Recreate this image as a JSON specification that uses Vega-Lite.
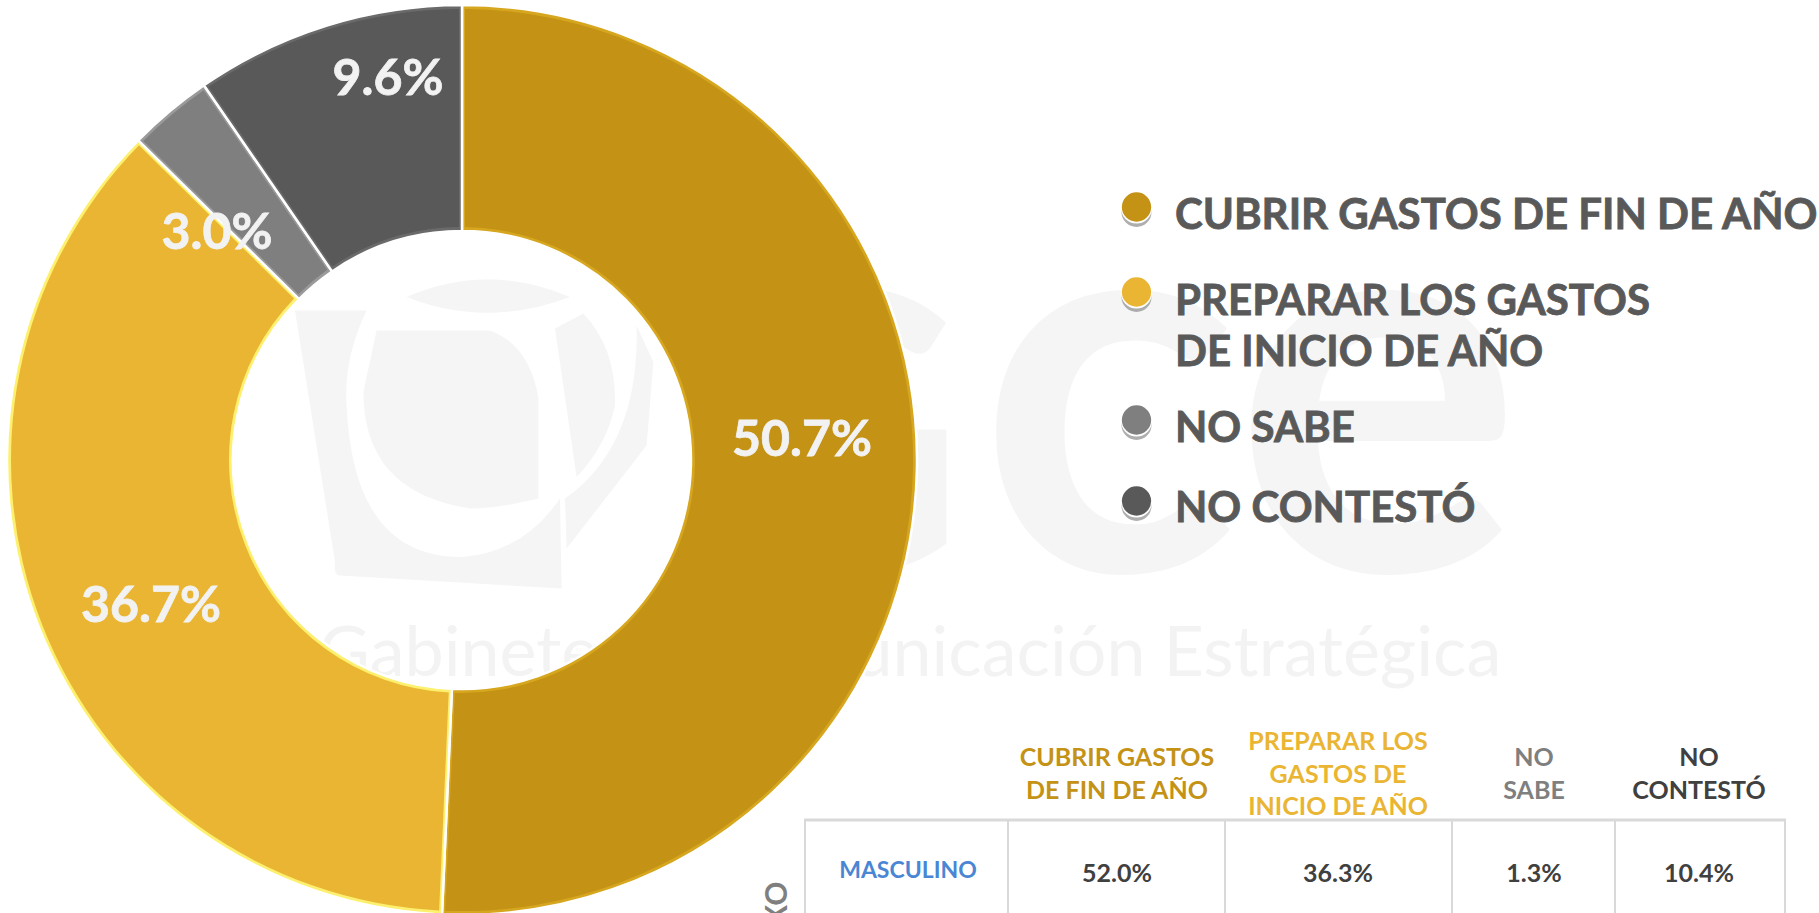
{
"$schema":"https://vega.github.io/schema/vega-lite/v6.json",
"width":1819,"height":913,"padding":0,
"autosize":{"type":"fit","contains":"padding"},
"background":"#ffffff",
"config":{"view":{"stroke":null},"text":{"font":"Lato","fontWeight":"bold"}},
"datasets":{
"categorias":[
{"orden":1,"categoria":"CUBRIR GASTOS DE FIN DE AÑO","leyenda":"CUBRIR GASTOS DE FIN DE AÑO","encabezado":"CUBRIR GASTOS|DE FIN DE AÑO","pct":50.7,"etiqueta":"50.7%","masculino":"52.0%"},
{"orden":2,"categoria":"PREPARAR LOS GASTOS DE INICIO DE AÑO","leyenda":"PREPARAR LOS GASTOS|DE INICIO DE AÑO","encabezado":"PREPARAR LOS|GASTOS DE|INICIO DE AÑO","pct":36.7,"etiqueta":"36.7%","masculino":"36.3%"},
{"orden":3,"categoria":"NO SABE","leyenda":"NO SABE","encabezado":"NO|SABE","pct":3.0,"etiqueta":"3.0%","masculino":"1.3%"},
{"orden":4,"categoria":"NO CONTESTÓ","leyenda":"NO CONTESTÓ","encabezado":"NO|CONTESTÓ","pct":9.6,"etiqueta":"9.6%","masculino":"10.4%"}
],
"lineas":[{"n":1},{"n":2},{"n":3},{"n":4},{"n":5},{"n":6}]
},
"resolve":{"scale":{"x":"independent","y":"independent","theta":"independent","color":"independent","size":"independent"}},
"layer":[
{"data":{"values":[{"t":"ce"}]},
 "mark":{"type":"text","fontSize":540,"fontWeight":"bold","font":"Lato","color":"#f5f5f5","align":"center","baseline":"alphabetic"},
 "encoding":{"x":{"datum":0.5,"type":"quantitative","axis":null,"scale":{"domain":[0,1],"range":[0,2500]}},
  "y":{"datum":0.5,"type":"quantitative","axis":null,"scale":{"domain":[0,1],"range":[0,1138]}},
  "text":{"field":"t"}}},
{"data":{"values":[{"t":"G"}]},
 "mark":{"type":"text","fontSize":390,"fontWeight":"bold","font":"Lato","color":"#f5f5f5","align":"center","baseline":"alphabetic"},
 "encoding":{"x":{"datum":0.5,"type":"quantitative","axis":null,"scale":{"domain":[0,1],"range":[0,1648]}},
  "y":{"datum":0.5,"type":"quantitative","axis":null,"scale":{"domain":[0,1],"range":[0,1138]}},
  "text":{"field":"t"}}},
{"data":{"values":[{"t":"Gabinete de Comunicación  Estratégica"}]},
 "mark":{"type":"text","fontSize":70,"fontWeight":"normal","font":"Lato","color":"#f3f3f3","align":"center","baseline":"middle"},
 "encoding":{"x":{"datum":0.5,"type":"quantitative","axis":null,"scale":{"domain":[0,1],"range":[330,1490]}},
  "y":{"datum":0.5,"type":"quantitative","axis":null,"scale":{"domain":[0,1],"range":[0,1306]}},
  "text":{"field":"t"}}},
{"data":{"values":[{"n":1}]},
 "mark":{"type":"point","filled":true,"color":"#f5f5f5","opacity":1,"shape":"M-0.85,-0.758L-0.492,-0.758Q-0.608,-0.517,-0.592,-0.283Q-0.558,0.483,-0.008,0.475Q0.292,0.45,0.475,0.183L0.483,0.633L-0.625,0.567Q-0.658,0.567,-0.65,0.5ZM-0.442,-0.658L0.125,-0.658Q0.325,-0.583,0.367,-0.317L0.367,0.183Q0.158,0.233,0.025,0.233Q-0.508,0.15,-0.508,-0.35ZM-0.292,-0.825Q0.108,-1,0.525,-0.825Q0.108,-0.667,-0.292,-0.825ZM0.45,-0.667L0.592,-0.742Q0.758,-0.567,0.75,-0.283Q0.708,-0.083,0.558,0.075ZM0.858,-0.683L0.942,-0.5L0.908,-0.083L0.508,0.433L0.5,0.183Q0.875,-0.083,0.858,-0.683Z"},
 "encoding":{"x":{"datum":0.5,"type":"quantitative","axis":null,"scale":{"domain":[0,1],"range":[0,930]}},
  "y":{"datum":0.5,"type":"quantitative","axis":null,"scale":{"domain":[0,1],"range":[0,920]}},
  "size":{"value":160000}}},
{"data":{"name":"categorias"},
 "mark":{"type":"arc","innerRadius":229,"outerRadius":455,"stroke":"#ffffff","strokeWidth":2.5},
 "encoding":{"x":{"datum":0.5,"type":"quantitative","axis":null,"scale":{"domain":[0,1],"range":[0,924]}},
  "y":{"datum":0.5,"type":"quantitative","axis":null,"scale":{"domain":[0,1],"range":[0,916]}},
  "theta":{"field":"pct","type":"quantitative","stack":true},
  "order":{"field":"orden"},
  "color":{"field":"categoria","type":"nominal","legend":null,"scale":{"domain":["CUBRIR GASTOS DE FIN DE AÑO","PREPARAR LOS GASTOS DE INICIO DE AÑO","NO SABE","NO CONTESTÓ"],"range":["#d6a61e","#fdf06e","#9a9a9a","#6a6a6a"]}}}},
{"data":{"name":"categorias"},
 "mark":{"type":"arc","innerRadius":233,"outerRadius":451,"padAngle":0.012},
 "encoding":{"x":{"datum":0.5,"type":"quantitative","axis":null,"scale":{"domain":[0,1],"range":[0,924]}},
  "y":{"datum":0.5,"type":"quantitative","axis":null,"scale":{"domain":[0,1],"range":[0,916]}},
  "theta":{"field":"pct","type":"quantitative","stack":true},
  "order":{"field":"orden"},
  "color":{"field":"categoria","type":"nominal","legend":null,"scale":{"domain":["CUBRIR GASTOS DE FIN DE AÑO","PREPARAR LOS GASTOS DE INICIO DE AÑO","NO SABE","NO CONTESTÓ"],"range":["#c49214","#eab532","#7f7f7f","#595959"]}}}},
{"data":{"name":"categorias"},
 "mark":{"type":"text","fontSize":50,"color":"#f2f2f2","stroke":"#f2f2f2","strokeWidth":0.8,"align":"center","baseline":"middle"},
 "encoding":{"x":{"field":"orden","type":"quantitative","axis":null,"scale":{"domain":[1,2,3,4],"range":[802,151,217,388]}},
  "y":{"field":"orden","type":"quantitative","axis":null,"scale":{"domain":[1,2,3,4],"range":[439,605,232,78]}},
  "text":{"field":"etiqueta"}}},
{"data":{"name":"categorias"},
 "mark":{"type":"point","filled":true,"color":"#9a9a9a","opacity":0.8,"shape":"circle"},
 "encoding":{"x":{"datum":0.5,"type":"quantitative","axis":null,"scale":{"domain":[0,1],"range":[0,2273]}},
  "y":{"field":"orden","type":"quantitative","axis":null,"scale":{"domain":[1,2,3,4],"range":[210,295,423,504]}},
  "size":{"value":900}}},
{"data":{"name":"categorias"},
 "mark":{"type":"point","filled":true,"color":"#ffffff","opacity":1,"shape":"circle"},
 "encoding":{"x":{"datum":0.5,"type":"quantitative","axis":null,"scale":{"domain":[0,1],"range":[0,2273]}},
  "y":{"field":"orden","type":"quantitative","axis":null,"scale":{"domain":[1,2,3,4],"range":[206,291,419,500]}},
  "size":{"value":960}}},
{"data":{"name":"categorias"},
 "mark":{"type":"point","filled":true,"opacity":1,"shape":"circle"},
 "encoding":{"x":{"datum":0.5,"type":"quantitative","axis":null,"scale":{"domain":[0,1],"range":[0,2273]}},
  "y":{"field":"orden","type":"quantitative","axis":null,"scale":{"domain":[1,2,3,4],"range":[205,290,418,499]}},
  "size":{"value":860},
  "color":{"field":"categoria","type":"nominal","legend":null,"scale":{"domain":["CUBRIR GASTOS DE FIN DE AÑO","PREPARAR LOS GASTOS DE INICIO DE AÑO","NO SABE","NO CONTESTÓ"],"range":["#c49214","#eab532","#7f7f7f","#595959"]}}}},
{"data":{"name":"categorias"},
 "mark":{"type":"text","fontSize":42,"color":"#595959","stroke":"#595959","strokeWidth":0.8,"align":"left","baseline":"middle","lineBreak":"|","lineHeight":50.5},
 "encoding":{"x":{"datum":0.5,"type":"quantitative","axis":null,"scale":{"domain":[0,1],"range":[0,2350]}},
  "y":{"field":"orden","type":"quantitative","axis":null,"scale":{"domain":[1,2,3,4],"range":[214,300,427,507]}},
  "text":{"field":"leyenda"}}},
{"data":{"name":"categorias"},
 "mark":{"type":"text","fontSize":25,"align":"center","baseline":"middle","lineBreak":"|","lineHeight":32.5},
 "encoding":{"x":{"field":"orden","type":"quantitative","axis":null,"scale":{"domain":[1,2,3,4],"range":[1117,1338,1534,1699]}},
  "y":{"field":"orden","type":"quantitative","axis":null,"scale":{"domain":[1,2,3,4],"range":[756,740,756,756]}},
  "text":{"field":"encabezado"},
  "color":{"field":"categoria","type":"nominal","legend":null,"scale":{"domain":["CUBRIR GASTOS DE FIN DE AÑO","PREPARAR LOS GASTOS DE INICIO DE AÑO","NO SABE","NO CONTESTÓ"],"range":["#c49214","#eab532","#7f7f7f","#404040"]}}}},
{"data":{"name":"categorias"},
 "mark":{"type":"text","fontSize":25,"color":"#404040","align":"center","baseline":"middle"},
 "encoding":{"x":{"field":"orden","type":"quantitative","axis":null,"scale":{"domain":[1,2,3,4],"range":[1117,1338,1534,1699]}},
  "y":{"datum":0.5,"type":"quantitative","axis":null,"scale":{"domain":[0,1],"range":[0,1744]}},
  "text":{"field":"masculino"}}},
{"data":{"values":[{"t":"MASCULINO"}]},
 "mark":{"type":"text","fontSize":23,"color":"#4a86d4","align":"center","baseline":"middle"},
 "encoding":{"x":{"datum":0.5,"type":"quantitative","axis":null,"scale":{"domain":[0,1],"range":[0,1816]}},
  "y":{"datum":0.5,"type":"quantitative","axis":null,"scale":{"domain":[0,1],"range":[0,1738]}},
  "text":{"field":"t"}}},
{"data":{"values":[{"t":"SEXO"}]},
 "mark":{"type":"text","fontSize":30,"color":"#7f7f7f","align":"center","baseline":"middle","angle":270},
 "encoding":{"x":{"datum":0.5,"type":"quantitative","axis":null,"scale":{"domain":[0,1],"range":[0,1556]}},
  "y":{"datum":0.5,"type":"quantitative","axis":null,"scale":{"domain":[0,1],"range":[0,1836]}},
  "text":{"field":"t"}}},
{"data":{"name":"lineas"},
 "mark":{"type":"rule","color":"#d9d9d9","strokeWidth":2},
 "encoding":{"x":{"field":"n","type":"quantitative","axis":null,"scale":{"domain":[1,2,3,4,5,6],"range":[805,1008,1225,1452,1615,1785]}},
  "y":{"datum":0,"type":"quantitative","axis":null,"scale":{"domain":[0,1],"range":[818,930]}},
  "y2":{"datum":1}}},
{"data":{"values":[{"n":1}]},
 "mark":{"type":"rule","color":"#d9d9d9","strokeWidth":3},
 "encoding":{"x":{"datum":0,"type":"quantitative","axis":null,"scale":{"domain":[0,1],"range":[804,1786]}},
  "x2":{"datum":1},
  "y":{"datum":0.5,"type":"quantitative","axis":null,"scale":{"domain":[0,1],"range":[0,1636]}}}}
]
}
